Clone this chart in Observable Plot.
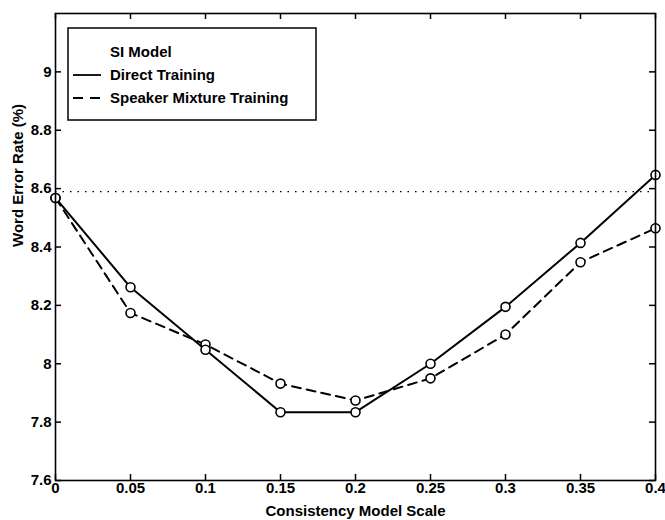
<!DOCTYPE html>
<html><head><meta charset="utf-8">
<script src="https://cdn.jsdelivr.net/npm/d3@7"></script>
<script src="https://cdn.jsdelivr.net/npm/@observablehq/plot@0.6"></script>
<style>
html,body{margin:0;padding:0;background:#fff;}
#chart{position:relative;width:665px;height:520px;}
</style>
</head><body><div id="chart"></div>
<script>
const scales = [0, 0.05, 0.1, 0.15, 0.2, 0.25, 0.3, 0.35, 0.4];
const directTraining = [8.568, 8.262, 8.048, 7.834, 7.834, 8.0, 8.195, 8.414, 8.647];
const mixtureTraining = [8.568, 8.174, 8.066, 7.932, 7.874, 7.95, 8.1, 8.348, 8.464];
const siModel = 8.59;
const xTicks = [0, 0.05, 0.1, 0.15, 0.2, 0.25, 0.3, 0.35, 0.4];
const yTicks = [7.6, 7.8, 8, 8.2, 8.4, 8.6, 8.8, 9];
const seriesNames = ["SI Model", "Direct Training", "Speaker Mixture Training"];

const direct = scales.map((x, i) => ({x, y: directTraining[i]}));
const mixture = scales.map((x, i) => ({x, y: mixtureTraining[i]}));

const font = "Liberation Sans, Arial, sans-serif";
const fs = 15;
const W = 665, H = 520, mL = 55, mR = 10, mT = 13, mB = 40;
const fw = W - mL - mR, fh = H - mT - mB, tk = 6;
const plot = Plot.plot({
  width: W, height: H,
  marginLeft: mL, marginRight: mR, marginTop: mT, marginBottom: mB,
  style: {fontFamily: font, fontSize: fs + "px", fontWeight: "bold", color: "#000", background: "#fff"},
  x: {domain: [0, 0.4]},
  y: {domain: [7.6, 9.2]},
  marks: [
    Plot.axisX(xTicks, {anchor: "bottom", tickSize: 0, tickFormat: d => String(d), tickPadding: 2, label: null, fontSize: fs, fontWeight: "bold"}),
    Plot.axisY(yTicks, {anchor: "left", tickSize: 0, tickFormat: d => String(d), tickPadding: 4, label: null, fontSize: fs, fontWeight: "bold"}),
    Plot.tickX(xTicks, {x: d => d, insetTop: fh - tk, stroke: "#000", strokeWidth: 1.5}),
    Plot.tickX(xTicks, {x: d => d, insetBottom: fh - tk, stroke: "#000", strokeWidth: 1.5}),
    Plot.tickY(yTicks, {y: d => d, insetRight: fw - tk, stroke: "#000", strokeWidth: 1.5}),
    Plot.tickY(yTicks, {y: d => d, insetLeft: fw - tk, stroke: "#000", strokeWidth: 1.5}),
    Plot.ruleY([siModel], {stroke: "#000", strokeWidth: 1.2, strokeDasharray: "1.5,6"}),
    Plot.line(mixture, {x: "x", y: "y", stroke: "#000", strokeWidth: 2, strokeDasharray: "9,6"}),
    Plot.line(direct, {x: "x", y: "y", stroke: "#000", strokeWidth: 2}),
    Plot.dot(mixture, {x: "x", y: "y", r: 4.5, stroke: "#000", strokeWidth: 1.6, fill: "#fff"}),
    Plot.dot(direct, {x: "x", y: "y", r: 4.5, stroke: "#000", strokeWidth: 1.6, fill: "#fff"}),
    Plot.frame({stroke: "#000", strokeWidth: 1.6}),
    Plot.text(["Consistency Model Scale"], {frameAnchor: "bottom", dy: 31, fontSize: fs, fontWeight: "bold", lineAnchor: "middle"}),
    Plot.text(["Word Error Rate (%)"], {frameAnchor: "left", dx: -37, rotate: -90, fontSize: fs, fontWeight: "bold"})
  ]
});
document.getElementById("chart").appendChild(plot);

// legend box inside the plot area
const svg = d3.select(plot);
const g = svg.append("g").attr("font-family", font).attr("font-size", fs).attr("font-weight", "bold");
g.append("rect").attr("x", 68).attr("y", 28).attr("width", 248).attr("height", 92)
  .attr("fill", "#fff").attr("stroke", "#000").attr("stroke-width", 1.5);
const rows = [52, 75, 98];
const dashes = ["1.5,6", null, "10,7"];
seriesNames.forEach((name, i) => {
  if (i > 0) {
    g.append("line").attr("x1", 73).attr("x2", 101).attr("y1", rows[i]).attr("y2", rows[i])
      .attr("stroke", "#000").attr("stroke-width", 1.8).attr("stroke-dasharray", dashes[i]);
  }
  g.append("text").attr("x", 110).attr("y", rows[i]).attr("dy", "0.35em")
    .attr("text-anchor", "start").attr("fill", "#000").text(name);
});
</script>
</body></html>
